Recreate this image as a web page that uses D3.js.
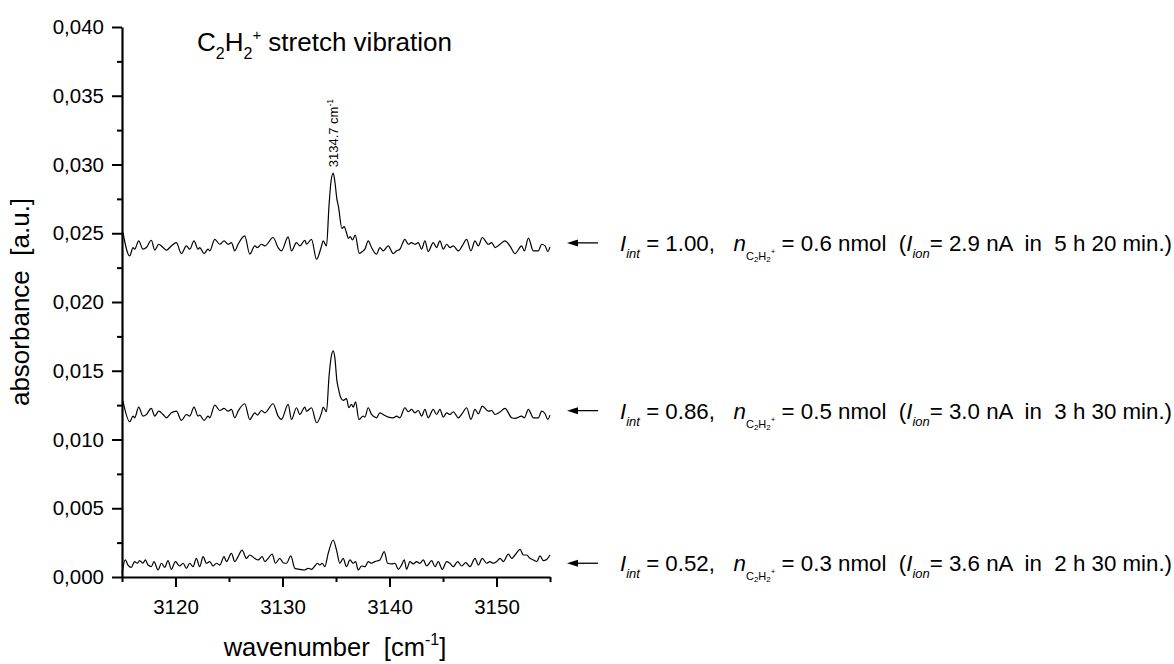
<!DOCTYPE html>
<html>
<head>
<meta charset="utf-8">
<script src="https://cdn.jsdelivr.net/npm/d3@7"></script>
<style>
  body { margin: 0; background: #fff; }
  svg { font-family: Arial, "Liberation Sans", sans-serif; }
</style>
</head>
<body>
<div id="chart"></div>
<script>
// Traces: [wavenumber (cm-1), absorbance]
const traceTop = [
  [3115.09, .02505], [3115.72, .02335], [3116.03, .02396], [3116.18, .02384], [3116.56, .02444],
  [3116.96, .02384], [3117.28, .02396], [3117.74, .02449], [3118.06, .02377], [3118.43, .02420],
  [3118.84, .02396], [3119.15, .02377], [3119.61, .02408], [3120.08, .02432], [3120.55, .02352],
  [3121.02, .02408], [3121.33, .02384], [3121.73, .02444], [3122.11, .02384], [3122.26, .02396],
  [3122.67, .02352], [3123.04, .02384], [3123.20, .02372], [3123.67, .02456], [3124.14, .02420],
  [3124.54, .02444], [3124.92, .02420], [3125.23, .02432], [3125.54, .02372], [3125.85, .02420],
  [3126.47, .02481], [3126.94, .02348], [3127.41, .02408], [3127.66, .02396], [3128.03, .02420],
  [3128.35, .02408], [3129.12, .02469], [3129.59, .02396], [3129.90, .02372], [3130.53, .02473],
  [3130.84, .02372], [3131.31, .02432], [3131.62, .02408], [3132.09, .02449], [3132.24, .02420],
  [3132.71, .02456], [3133.18, .02311], [3133.65, .02408], [3133.80, .02444], [3134.11, .02408],
  [3134.35, .02705], [3134.55, .02887], [3134.74, .02938], [3134.90, .02873], [3135.08, .02750],
  [3135.23, .02693], [3135.55, .02536], [3135.77, .02548], [3135.95, .02511], [3136.17, .02463],
  [3136.33, .02475], [3136.54, .02451], [3136.80, .02487], [3137.17, .02354], [3137.54, .02372],
  [3137.70, .02384], [3138.01, .02444], [3138.32, .02396], [3138.79, .02348], [3139.10, .02396],
  [3139.41, .02372], [3139.88, .02408], [3140.35, .02352], [3140.66, .02372], [3140.97, .02384],
  [3141.44, .02456], [3141.75, .02420], [3142.06, .02432], [3142.38, .02420], [3142.69, .02432],
  [3143.00, .02384], [3143.31, .02444], [3143.62, .02367], [3144.09, .02432], [3144.40, .02396],
  [3144.71, .02444], [3145.03, .02384], [3145.34, .02420], [3145.65, .02396], [3145.96, .02408],
  [3146.43, .02372], [3146.80, .02408], [3147.21, .02456], [3147.61, .02372], [3147.99, .02444],
  [3148.30, .02408], [3148.67, .02469], [3149.24, .02420], [3149.55, .02432], [3149.86, .02396],
  [3150.33, .02420], [3150.79, .02444], [3151.25, .02408], [3151.73, .02352], [3152.35, .02408],
  [3152.60, .02372], [3152.98, .02464], [3153.44, .02372], [3153.91, .02372], [3154.22, .02420],
  [3154.54, .02408], [3154.79, .02367], [3155.00, .02401]
];

const traceMiddle = [
  [3115.09, .01279], [3115.72, .01129], [3116.03, .01170], [3116.18, .01158], [3116.56, .01235],
  [3116.96, .01170], [3117.28, .01182], [3117.74, .01226], [3118.06, .01170], [3118.43, .01206],
  [3118.84, .01182], [3119.15, .01158], [3119.61, .01194], [3120.08, .01206], [3120.55, .01139],
  [3121.02, .01182], [3121.33, .01170], [3121.73, .01235], [3122.11, .01170], [3122.26, .01177],
  [3122.67, .01139], [3123.04, .01170], [3123.20, .01158], [3123.67, .01250], [3124.14, .01211],
  [3124.54, .01226], [3124.92, .01206], [3125.23, .01219], [3125.54, .01158], [3125.85, .01206],
  [3126.47, .01260], [3126.94, .01146], [3127.41, .01194], [3127.66, .01177], [3128.03, .01211],
  [3128.35, .01194], [3129.12, .01260], [3129.59, .01170], [3129.90, .01146], [3130.53, .01255],
  [3130.84, .01146], [3131.31, .01231], [3131.62, .01182], [3132.09, .01235], [3132.24, .01206],
  [3132.71, .01231], [3133.18, .01122], [3133.65, .01194], [3133.80, .01235], [3134.11, .01202],
  [3134.35, .01460], [3134.55, .01600], [3134.74, .01645], [3134.90, .01590], [3135.08, .01430],
  [3135.23, .01370], [3135.45, .01303], [3135.67, .01284], [3135.98, .01298], [3136.20, .01231],
  [3136.45, .01255], [3136.61, .01235], [3136.83, .01274], [3137.14, .01146], [3137.54, .01170],
  [3137.70, .01163], [3138.01, .01231], [3138.32, .01182], [3138.79, .01158], [3139.10, .01194],
  [3139.41, .01182], [3139.88, .01163], [3140.35, .01158], [3140.66, .01170], [3140.97, .01158],
  [3141.44, .01231], [3141.75, .01202], [3142.06, .01219], [3142.38, .01194], [3142.69, .01211],
  [3143.00, .01170], [3143.31, .01219], [3143.62, .01158], [3144.09, .01219], [3144.40, .01182],
  [3144.71, .01219], [3145.03, .01163], [3145.34, .01194], [3145.65, .01182], [3145.96, .01202],
  [3146.43, .01158], [3146.80, .01190], [3147.21, .01231], [3147.61, .01146], [3147.99, .01219],
  [3148.30, .01187], [3148.67, .01243], [3149.24, .01206], [3149.55, .01211], [3149.86, .01182],
  [3150.33, .01200], [3150.79, .01226], [3151.42, .01158], [3151.73, .01153], [3152.35, .01170],
  [3152.60, .01158], [3152.98, .01219], [3153.44, .01158], [3153.91, .01158], [3154.22, .01206],
  [3154.54, .01187], [3154.79, .01146], [3155.00, .01177]
];

const traceBottom = [
  [3115.00, .00027], [3115.31, .00124], [3115.56, .00087], [3115.87, .00070], [3116.18, .00112],
  [3116.43, .00100], [3116.65, .00119], [3116.96, .00100], [3117.18, .00124], [3117.43, .00087],
  [3117.74, .00075], [3117.99, .00112], [3118.37, .00051], [3118.68, .00100], [3118.99, .00070],
  [3119.30, .00119], [3119.61, .00056], [3119.99, .00112], [3120.39, .00080], [3120.71, .00100],
  [3121.02, .00063], [3121.33, .00100], [3121.64, .00075], [3121.95, .00136], [3122.26, .00075],
  [3122.58, .00148], [3122.89, .00100], [3123.20, .00112], [3123.51, .00080], [3123.82, .00100],
  [3124.14, .00087], [3124.54, .00148], [3124.76, .00112], [3125.23, .00172], [3125.54, .00112],
  [3125.85, .00148], [3126.22, .00196], [3126.63, .00136], [3126.94, .00160], [3127.41, .00136],
  [3127.72, .00124], [3128.10, .00148], [3128.35, .00112], [3128.66, .00136], [3129.03, .00167],
  [3129.34, .00100], [3129.75, .00136], [3130.06, .00104], [3130.37, .00100], [3130.78, .00153],
  [3131.15, .00063], [3131.62, .00056], [3132.02, .00051], [3132.40, .00063], [3132.71, .00056],
  [3133.02, .00080], [3133.27, .00100], [3133.49, .00087], [3133.71, .00100], [3133.96, .00075],
  [3134.27, .00172], [3134.74, .00269], [3135.05, .00196], [3135.36, .00100], [3135.67, .00136],
  [3135.98, .00075], [3136.30, .00124], [3136.61, .00100], [3136.83, .00112], [3137.08, .00051],
  [3137.39, .00080], [3137.70, .00075], [3138.01, .00112], [3138.32, .00100], [3138.63, .00112],
  [3139.10, .00124], [3139.51, .00184], [3139.82, .00100], [3140.20, .00095], [3140.51, .00100],
  [3140.82, .00056], [3141.13, .00087], [3141.38, .00124], [3141.60, .00056], [3141.91, .00112],
  [3142.22, .00095], [3142.53, .00112], [3142.84, .00100], [3143.16, .00124], [3143.47, .00080],
  [3143.94, .00119], [3144.25, .00075], [3144.56, .00112], [3144.93, .00056], [3145.34, .00112],
  [3145.65, .00100], [3145.96, .00075], [3146.37, .00112], [3146.74, .00080], [3147.12, .00104],
  [3147.52, .00075], [3147.99, .00136], [3148.30, .00087], [3148.67, .00136], [3149.08, .00100],
  [3149.39, .00112], [3149.70, .00100], [3150.01, .00112], [3150.33, .00136], [3150.64, .00112],
  [3151.11, .00167], [3151.42, .00136], [3151.73, .00160], [3152.20, .00201], [3152.51, .00160],
  [3152.82, .00160], [3153.13, .00136], [3153.44, .00124], [3153.76, .00112], [3154.07, .00153],
  [3154.38, .00119], [3154.69, .00128], [3155.00, .00160]
];

// Annotation texts on the right, top to bottom
const arrowLevels = [0.0243, 0.0121, 0.0010];
const intensities = ['1.00', '0.86', '0.52'];
const amounts = ['0.6', '0.5', '0.3'];
const currents = ['2.9', '3.0', '3.6'];
const durations = ['5 h 20 min.', '3 h 30 min.', '2 h 30 min.'];

const xMajor = [3120, 3130, 3140, 3150];
const xMinor = [3115, 3125, 3135, 3145, 3155];
const yMajor = [0, 0.005, 0.01, 0.015, 0.02, 0.025, 0.03, 0.035, 0.04];
const yMinor = [0.0025, 0.0075, 0.0125, 0.0175, 0.0225, 0.0275, 0.0325, 0.0375];

const peakPosition = 3134.7;
const peakLabelValue = 0.0298;

// Chart size
const W = 1174, H = 664;
const margin = { top: 27, left: 122, right: 624, bottom: 87 };

const svg = d3.select('#chart')
  .append('svg')
  .attr('width', W)
  .attr('height', H);

const x = d3.scaleLinear().domain([3115, 3155]).range([margin.left, W - margin.right]);
const y = d3.scaleLinear().domain([0, 0.04]).range([H - margin.bottom, margin.top]);

// comma as decimal separator
const fmt = d3.formatLocale({ decimal: ',', thousands: '.', grouping: [3], currency: ['', ''] }).format('.3f');

// minor ticks first, then the major axis on top
svg.append('g')
  .attr('transform', `translate(0,${y(0)})`)
  .call(d3.axisBottom(x).tickValues(xMinor).tickSize(5).tickFormat(''))
  .call(g => g.select('.domain').remove());
svg.append('g')
  .attr('transform', `translate(${x(3115)},0)`)
  .call(d3.axisLeft(y).tickValues(yMinor).tickSize(5).tickFormat(''))
  .call(g => g.select('.domain').remove());

svg.append('g')
  .attr('transform', `translate(0,${y(0)})`)
  .call(d3.axisBottom(x).tickValues(xMajor).tickSize(10).tickSizeOuter(0).tickPadding(12).tickFormat(d3.format('d')));
svg.append('g')
  .attr('transform', `translate(${x(3115)},0)`)
  .call(d3.axisLeft(y).tickValues(yMajor).tickSize(10).tickSizeOuter(0).tickPadding(8).tickFormat(fmt));

svg.selectAll('.tick line').attr('stroke', '#000').attr('stroke-width', 2);
svg.selectAll('.domain').attr('stroke', '#000').attr('stroke-width', 2.2);
svg.selectAll('.tick text').attr('fill', '#000').style('font-size', '20.5px');

// traces
const line = d3.line().x(d => x(d[0])).y(d => y(d[1])).curve(d3.curveMonotoneX);
[traceTop, traceMiddle, traceBottom].forEach(tr => {
  svg.append('path')
    .datum(tr)
    .attr('d', line)
    .attr('fill', 'none')
    .attr('stroke', '#000')
    .attr('stroke-width', 1.2)
    .attr('stroke-linejoin', 'round');
});

// text with sub/superscripts: shift > 0 moves down
function richText(parent, tx, ty, parts, attrs) {
  const t = parent.append('text')
    .attr('x', tx)
    .attr('y', ty)
    .style('white-space', 'pre')
    .attr('fill', '#000');
  if (attrs) Object.keys(attrs).forEach(k => t.attr(k, attrs[k]));
  let prev = 0;
  parts.forEach(p => {
    const s = p.shift || 0;
    t.append('tspan')
      .attr('dy', s - prev)
      .style('font-size', p.size + 'px')
      .style('font-style', p.italic ? 'italic' : 'normal')
      .text(p.t);
    prev = s;
  });
  return t;
}

// title
richText(svg, 197, 51, [
  { t: 'C', size: 26 },
  { t: '2', size: 16, shift: 8 },
  { t: 'H', size: 26 },
  { t: '2', size: 16, shift: 8 },
  { t: '+', size: 15, shift: -11 },
  { t: ' stretch vibration', size: 26 }
]);

// peak label
richText(svg, 0, 0, [
  { t: peakPosition.toFixed(1) + ' cm', size: 13 },
  { t: '-1', size: 8.5, shift: -5 }
], { transform: `translate(${x(peakPosition) + 5},${y(peakLabelValue)}) rotate(-90)` });

// axis titles
richText(svg, 335, 656, [
  { t: 'wavenumber  [cm', size: 25.5 },
  { t: '-1', size: 16, shift: -11 },
  { t: ']', size: 25.5 }
], { 'text-anchor': 'middle' });

svg.append('text')
  .attr('transform', `translate(29,${(y(0) + y(0.04)) / 2}) rotate(-90)`)
  .attr('text-anchor', 'middle')
  .style('font-size', '26px')
  .style('white-space', 'pre')
  .text('absorbance  [a.u.]');

// arrows and annotations
arrowLevels.forEach((lv, i) => {
  const ay = y(lv);
  svg.append('line')
    .attr('x1', 574).attr('x2', 598)
    .attr('y1', ay).attr('y2', ay)
    .attr('stroke', '#000').attr('stroke-width', 1.3);
  svg.append('path')
    .attr('d', `M567,${ay} L578,${ay - 3.5} L578,${ay + 3.5} Z`)
    .attr('fill', '#000');

  richText(svg, 620, ay + 8, [
    { t: 'I', size: 22.3, italic: true },
    { t: 'int', size: 13, italic: true, shift: 7 },
    { t: ' = ' + intensities[i] + ',   ', size: 22.3 },
    { t: 'n', size: 22.3, italic: true },
    { t: 'C', size: 11, shift: 9 },
    { t: '2', size: 8, shift: 11 },
    { t: 'H', size: 11, shift: 9 },
    { t: '2', size: 8, shift: 11 },
    { t: '+', size: 8, shift: 3 },
    { t: ' = ' + amounts[i] + ' nmol  (', size: 22.3 },
    { t: 'I', size: 22.3, italic: true },
    { t: 'ion', size: 13, italic: true, shift: 7 },
    { t: '= ' + currents[i] + ' nA  in  ' + durations[i] + ')', size: 22.3 }
  ]);
});
</script>
</body>
</html>
